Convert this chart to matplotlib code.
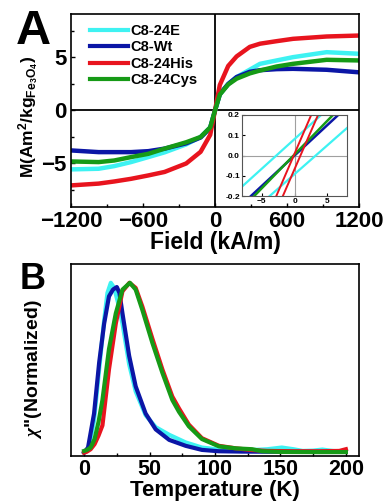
import numpy as np
import matplotlib
matplotlib.use("Agg")
import matplotlib.pyplot as plt
from matplotlib.ticker import MultipleLocator

plt.rcParams["font.family"] = ["Liberation Sans", "DejaVu Sans"]
plt.rcParams["font.weight"] = "bold"
plt.rcParams["axes.labelweight"] = "bold"
plt.rcParams["mathtext.fontset"] = "custom"
plt.rcParams["mathtext.rm"] = "Liberation Sans:bold"
plt.rcParams["mathtext.bf"] = "Liberation Sans:bold"
plt.rcParams["mathtext.it"] = "Liberation Serif:italic"
plt.rcParams["mathtext.default"] = "rm"

labels = ["C8-24E", "C8-Wt", "C8-24His", "C8-24Cys"]
colors = ["#3ef2f2", "#0b16a6", "#e8141e", "#169a16"]

# panel A: magnetisation vs field
field = [-1200, -970, -840, -700, -556, -420, -240, -120, -40, 0,
         40, 110, 180, 290, 375, 514, 650, 930, 1200]
m_e   = [-5.56, -5.5, -5.25, -4.87, -4.4, -3.95, -3.2, -2.5, -1.6, 0,
         1.5, 2.5, 3.15, 3.85, 4.4, 4.72, 5.03, 5.5, 5.35]
m_wt  = [-3.77, -3.93, -3.93, -3.93, -3.84, -3.6, -3.1, -2.55, -1.65, 0,
         1.55, 2.5, 3.15, 3.65, 3.8, 3.9, 3.93, 3.84, 3.6]
m_his = [-7.07, -6.9, -6.7, -6.45, -6.13, -5.8, -5.0, -3.9, -2.3, 0,
         2.4, 4.2, 5.1, 6.0, 6.3, 6.54, 6.76, 6.98, 7.07]
m_cys = [-4.81, -4.87, -4.72, -4.4, -4.09, -3.6, -3.0, -2.5, -1.6, 0,
         1.5, 2.45, 3.0, 3.5, 3.77, 4.15, 4.4, 4.78, 4.72]

# inset: low-field branches (end points of the straight segments)
in_e1_h, in_e1_m = [-8, 4.1], [-0.152, 0.2]
in_e2_h, in_e2_m = [-3.85, 8], [-0.2, 0.135]
in_wt_h, in_wt_m = [-6.7, 6.7], [-0.2, 0.2]
in_cys_h, in_cys_m = [-6.2, 5.9], [-0.2, 0.2]
in_his1_h, in_his1_m = [-2.8, 2.56], [-0.2, 0.2]
in_his2_h, in_his2_m = [-1.8, 3.6], [-0.2, 0.2]

# panel B: chi'' vs temperature
t_e = [0, 2, 4, 7.6, 11.5, 15.3, 17.8, 20.4, 23, 26, 29.3, 34.4, 39.4, 47, 54.7, 65, 77.6,
       90, 103, 116, 128, 140, 151, 160, 167, 175, 182, 190, 200]
chi_e = [0.0, 0.01, 0.04, 0.19, 0.49, 0.78, 0.94, 1.0, 0.97, 0.88, 0.76, 0.52, 0.36, 0.22,
         0.15, 0.105, 0.06, 0.03, 0.018, 0.014, 0.015, 0.02, 0.03, 0.02, 0.01, 0.012, 0.018, 0.01, 0.005]
t_wt = [0, 3, 7.6, 11.5, 15.3, 19, 22, 25, 27, 29.3, 34.4, 39.4, 47, 54.7, 65, 77.6, 90,
        103, 120, 150, 180, 200]
chi_wt = [0.0, 0.03, 0.23, 0.53, 0.76, 0.92, 0.96, 0.975, 0.94, 0.82, 0.57, 0.39, 0.23,
          0.137, 0.075, 0.04, 0.016, 0.008, 0.006, 0.005, 0.004, 0.004]
t_his = [0, 2, 5, 8, 11, 14, 19, 24.2, 29.3, 34.6, 39.4, 44.5, 52.2, 59.8, 67.4, 72.5, 80,
         90, 103, 116, 128.5, 140, 160, 180, 195, 200]
chi_his = [0.0, 0.005, 0.02, 0.05, 0.1, 0.16, 0.49, 0.76, 0.95, 1.0, 0.97, 0.86, 0.67, 0.49,
           0.33, 0.26, 0.165, 0.085, 0.04, 0.025, 0.015, 0.01, 0.008, 0.008, 0.01, 0.02]
t_cys = [0, 2, 5, 8, 11, 14, 19, 24.2, 29.3, 35, 39.4, 44.5, 52.2, 59.8, 67.4, 72.5, 80, 90,
         103, 116, 128.5, 136, 150, 175, 200]
chi_cys = [0.01, 0.015, 0.03, 0.08, 0.18, 0.31, 0.61, 0.82, 0.96, 1.0, 0.96, 0.84, 0.645,
           0.47, 0.31, 0.24, 0.155, 0.08, 0.037, 0.025, 0.02, 0.008, 0.004, 0.003, 0.003]

fig = plt.figure(figsize=(3.86, 5.01), dpi=100)

def style(ax, size=16, pad=4):
    ax.tick_params(which="both", direction="in", labelsize=size, pad=pad)
    ax.tick_params(which="major", length=3, width=1)
    ax.tick_params(which="minor", length=2, width=1)
    for s in ax.spines.values():
        s.set_linewidth(1.2)

# ---- panel A
axA = fig.add_axes([0.184, 0.587, 0.746, 0.385])
axA.axhline(0, color="black", lw=1.3, zorder=1)
axA.axvline(0, color="black", lw=1.3, zorder=1)
for m, c, lab in zip([m_e, m_wt, m_his, m_cys], colors, labels):
    axA.plot(field, m, color=c, lw=3.2, label=lab, zorder=2)
axA.set_xlim(-1200, 1200)
axA.set_ylim(-9.1, 9.1)
axA.set_xticks([-1200, -600, 0, 600, 1200])
axA.set_yticks([-5, 0, 5])
axA.xaxis.set_minor_locator(MultipleLocator(300))
axA.yaxis.set_minor_locator(MultipleLocator(2.5))
style(axA, pad=3)
axA.set_xlabel("Field (kA/m)", fontsize=16.5, labelpad=-1)
axA.set_ylabel(r"M(Am$^{2}$/kg$_{\mathrm{Fe}_{3}\mathrm{O}_{4}}$)", fontsize=12.5)
axA.yaxis.set_label_coords(-0.103, 0.465)
leg = axA.legend(loc="upper left", frameon=False, fontsize=10.5, handlelength=2.6,
                 handletextpad=0.2, labelspacing=0.15, borderaxespad=0.3,
                 bbox_to_anchor=(0.03, 1.0))
for ln in leg.get_lines():
    ln.set_linewidth(3)

# inset
axI = fig.add_axes([0.627, 0.608, 0.272, 0.163])
axI.axhline(0, color="#a0a0a0", lw=0.8)
axI.axvline(0, color="#a0a0a0", lw=0.8)
axI.plot(in_e1_h, in_e1_m, color=colors[0], lw=1.6)
axI.plot(in_e2_h, in_e2_m, color=colors[0], lw=1.6)
axI.plot(in_wt_h, in_wt_m, color=colors[1], lw=1.8)
axI.plot(in_cys_h, in_cys_m, color=colors[3], lw=1.8)
axI.plot(in_his1_h, in_his1_m, color=colors[2], lw=1.4)
axI.plot(in_his2_h, in_his2_m, color=colors[2], lw=1.4)
axI.set_xlim(-8, 8)
axI.set_ylim(-0.2, 0.2)
axI.set_xticks([-5, 0, 5])
axI.set_yticks([-0.2, -0.1, 0.0, 0.1, 0.2])
axI.set_yticklabels(["-0.2", "-0.1", "0.0", "0.1", "0.2"])
axI.tick_params(direction="in", labelsize=6, length=2, pad=1.5)
for s in axI.spines.values():
    s.set_color("#555555")
    s.set_linewidth(0.8)

# ---- panel B
axB = fig.add_axes([0.184, 0.0898, 0.746, 0.383])
axB.plot(t_e, chi_e, color=colors[0], lw=3)
axB.plot(t_wt, chi_wt, color=colors[1], lw=3)
axB.plot(t_his, chi_his, color=colors[2], lw=3)
axB.plot(t_cys, chi_cys, color=colors[3], lw=3)
axB.set_xlim(-10, 210)
axB.set_ylim(-0.02, 1.11)
axB.set_xticks([0, 50, 100, 150, 200])
axB.xaxis.set_minor_locator(MultipleLocator(25))
axB.set_yticks([])
style(axB, size=15.5, pad=2)
axB.set_xlabel("Temperature (K)", fontsize=16, labelpad=0)
axB.set_ylabel(r'$\mathit{\chi}$"(Normalized)', fontsize=14)
axB.yaxis.set_label_coords(-0.095, 0.455)

fig.text(0.04, 0.982, "A", fontsize=35, fontweight="bold", va="top", ha="left")
fig.text(0.05, 0.478, "B", fontsize=26, fontweight="bold", va="top", ha="left")

fig.savefig("out.png", dpi=100)
